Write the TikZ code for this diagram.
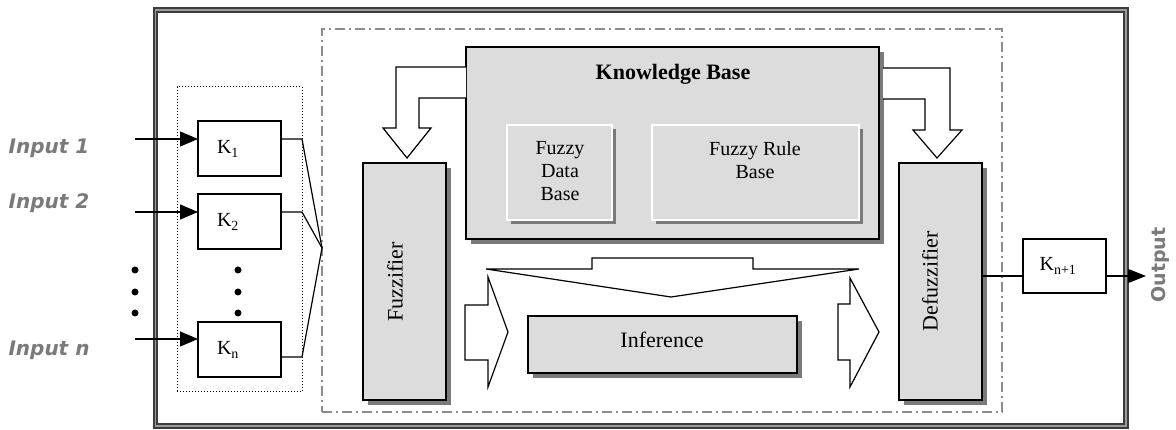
\documentclass[tikz,border=0pt]{standalone}
\usepackage{fontspec}
\setmainfont{Liberation Serif}
\newfontfamily\inputfont{DejaVu Sans}
\usetikzlibrary{arrows.meta,shadows}
\definecolor{boxgray}{HTML}{DCDCDC}
\definecolor{shadowgray}{HTML}{7A7A7A}
\definecolor{labelgray}{HTML}{7A7A7A}
\definecolor{framedark}{HTML}{3C3C3C}
\definecolor{framelight}{HTML}{9A9A9A}
\definecolor{dashgray}{HTML}{8C8C8C}
\begin{document}
\begin{tikzpicture}[x=1pt,y=-1pt,
  every node/.style={inner sep=0pt,outer sep=0pt},
  kbox/.style={draw=black,line width=1.2pt,fill=white,minimum width=83pt,minimum height=55pt},
  graybox/.style={draw=black,line width=1.2pt,fill=boxgray,
    drop shadow={shadow xshift=5pt,shadow yshift=-5pt,fill=shadowgray,opacity=1}},
  innerbox/.style={draw=white,line width=1.5pt,fill=boxgray,
    drop shadow={shadow xshift=4pt,shadow yshift=-4pt,fill=shadowgray,opacity=1}},
  fat/.style={draw=black,line width=1.2pt,fill=white,line join=miter},
  wire/.style={draw=black,line width=1.2pt},
  inarrow/.style={wire,-{Triangle[length=18pt,width=15pt]}},
  serifA/.style={font=\fontsize{20}{23}\selectfont},
  serifB/.style={font=\fontsize{22}{26}\selectfont},
  inlabel/.style={font=\inputfont\bfseries\itshape\fontsize{20}{24}\selectfont,text=labelgray},
  dotstyle/.style={circle,fill=black,minimum size=7pt}
]
\useasboundingbox (0,0) rectangle (1176,430);
% outer frame
\node[draw=framedark,double=framelight,double distance=1.5pt,line width=1.8pt,
      minimum width=970.5pt,minimum height=416pt] (frame) at (640.75,218) {};
% dotted group box
\node[draw=black,dotted,line width=1pt,minimum width=125pt,minimum height=305pt] (gains) at (239.5,239.5) {};
% dash-dot controller box
\node[draw=dashgray,line width=1.2pt,dash pattern=on 10pt off 4pt on 2pt off 4pt,
      minimum width=680pt,minimum height=383pt] (flc) at (662,220.5) {};

% input labels
\node[inlabel] (in1) at (49,148) {Input 1};
\node[inlabel] (in2) at (49,203) {Input 2};
\node[inlabel] (inn) at (49,350) {Input n};

% gain boxes
\node[kbox] (K1) at (239.5,148.5) {};
\node[kbox] (K2) at (239.5,221.5) {};
\node[kbox] (Kn) at (239.5,349.5) {};
\node[serifA] (K1t) at (228,149) {K\textsubscript{1}};
\node[serifA] (K2t) at (228,222) {K\textsubscript{2}};
\node[serifA] (Knt) at (228,350) {K\textsubscript{n}};

% dots
\foreach \yy [count=\i] in {270,292,313}{
  \node[dotstyle] (dl\i) at (135,\yy) {};
  \node[dotstyle] (dm\i) at (238,\yy) {};
}

% input arrows
\coordinate (s1) at (135,139);
\coordinate (s2) at (135,212);
\coordinate (sn) at (135,339);
\draw[inarrow] (s1) -- (s1 -| K1.west);
\draw[inarrow] (s2) -- (s2 -| K2.west);
\draw[inarrow] (sn) -- (sn -| Kn.west);

% converging wires
\coordinate (conv) at (322,248);
\coordinate (b1) at (302,139);
\coordinate (b2) at (302,212);
\coordinate (bn) at (302,357);
\draw[wire,line join=miter] (b1 -| K1.east) -- (b1) -- (conv);
\draw[wire,line join=miter] (b2 -| K2.east) -- (b2) -- (conv);
\draw[wire,line join=miter] (bn -| Kn.east) -- (bn) -- (conv);

% knowledge base
\node[graybox,minimum width=413pt,minimum height=192pt] (KB) at (672.5,143) {};
\node[serifB,font=\fontsize{22}{26}\selectfont\bfseries] (KBt) at (673,74) {Knowledge Base};
\node[innerbox,minimum width=105pt,minimum height=95pt] (FDB) at (559.5,172.5) {};
\node[serifA,align=center] (FDBt) at (560,171) {Fuzzy\\Data\\Base};
\node[innerbox,minimum width=207pt,minimum height=95pt] (FRB) at (755.5,172.5) {};
\node[serifA,align=center] (FRBt) at (755,160) {Fuzzy Rule\\Base};

% fuzzifier / defuzzifier / inference
\node[graybox,minimum width=83pt,minimum height=237pt] (FZ) at (404.5,281.5) {};
\node[serifB,rotate=90] (FZt) at (395,282) {Fuzzifier};
\node[graybox,minimum width=83pt,minimum height=237pt] (DF) at (940.5,281.5) {};
\node[serifB,rotate=90] (DFt) at (930,281) {Defuzzifier};
\node[graybox,minimum width=269pt,minimum height=57pt] (INF) at (662.5,344.5) {};
\node[serifB] (INFt) at (662,340) {Inference};

% bent hollow arrows from knowledge base
\path[fat] (KB.west |- 0,67) -- (396,67) -- (396,128) -- (383,128) -- (407,158)
   -- (431,128) -- (419,128) -- (419,98) -- (KB.west |- 0,98);
\path[fat] (883,68) -- (950,68) -- (950,130) -- (962,130) -- (937,158)
   -- (913,130) -- (925,130) -- (925,99) -- (883,99);

% wide downward hollow arrow
\path[fat] (592,258) -- (753,258) -- (753,269) -- (859,269) -- (671,297)
   -- (486,269) -- (592,269) -- cycle;
% right hollow arrows
\path[fat] (465,305) -- (488,305) -- (488,277) -- (508,332) -- (488,387)
   -- (488,360) -- (465,360) -- cycle;
\path[fat] (838,304) -- (850,304) -- (850,278) -- (879,332) -- (850,387)
   -- (850,360) -- (838,360) -- cycle;

% output gain
\node[kbox,minimum height=54pt] (Kout) at (1064.5,266) {};
\node[serifA] (Koutt) at (1058,266) {K\textsubscript{n+1}};
\coordinate (oy) at (0,276);
\draw[wire] (DF.east |- oy) -- (Kout.west |- oy);
\coordinate (otip) at (1146,276);
\draw[wire,-{Triangle[length=18pt,width=14pt]}] (Kout.east |- oy) -- (otip);
\node[font=\inputfont\bfseries\fontsize{19}{22}\selectfont,text=labelgray,rotate=90] (outl) at (1160,265) {Output};
\end{tikzpicture}
\end{document}
